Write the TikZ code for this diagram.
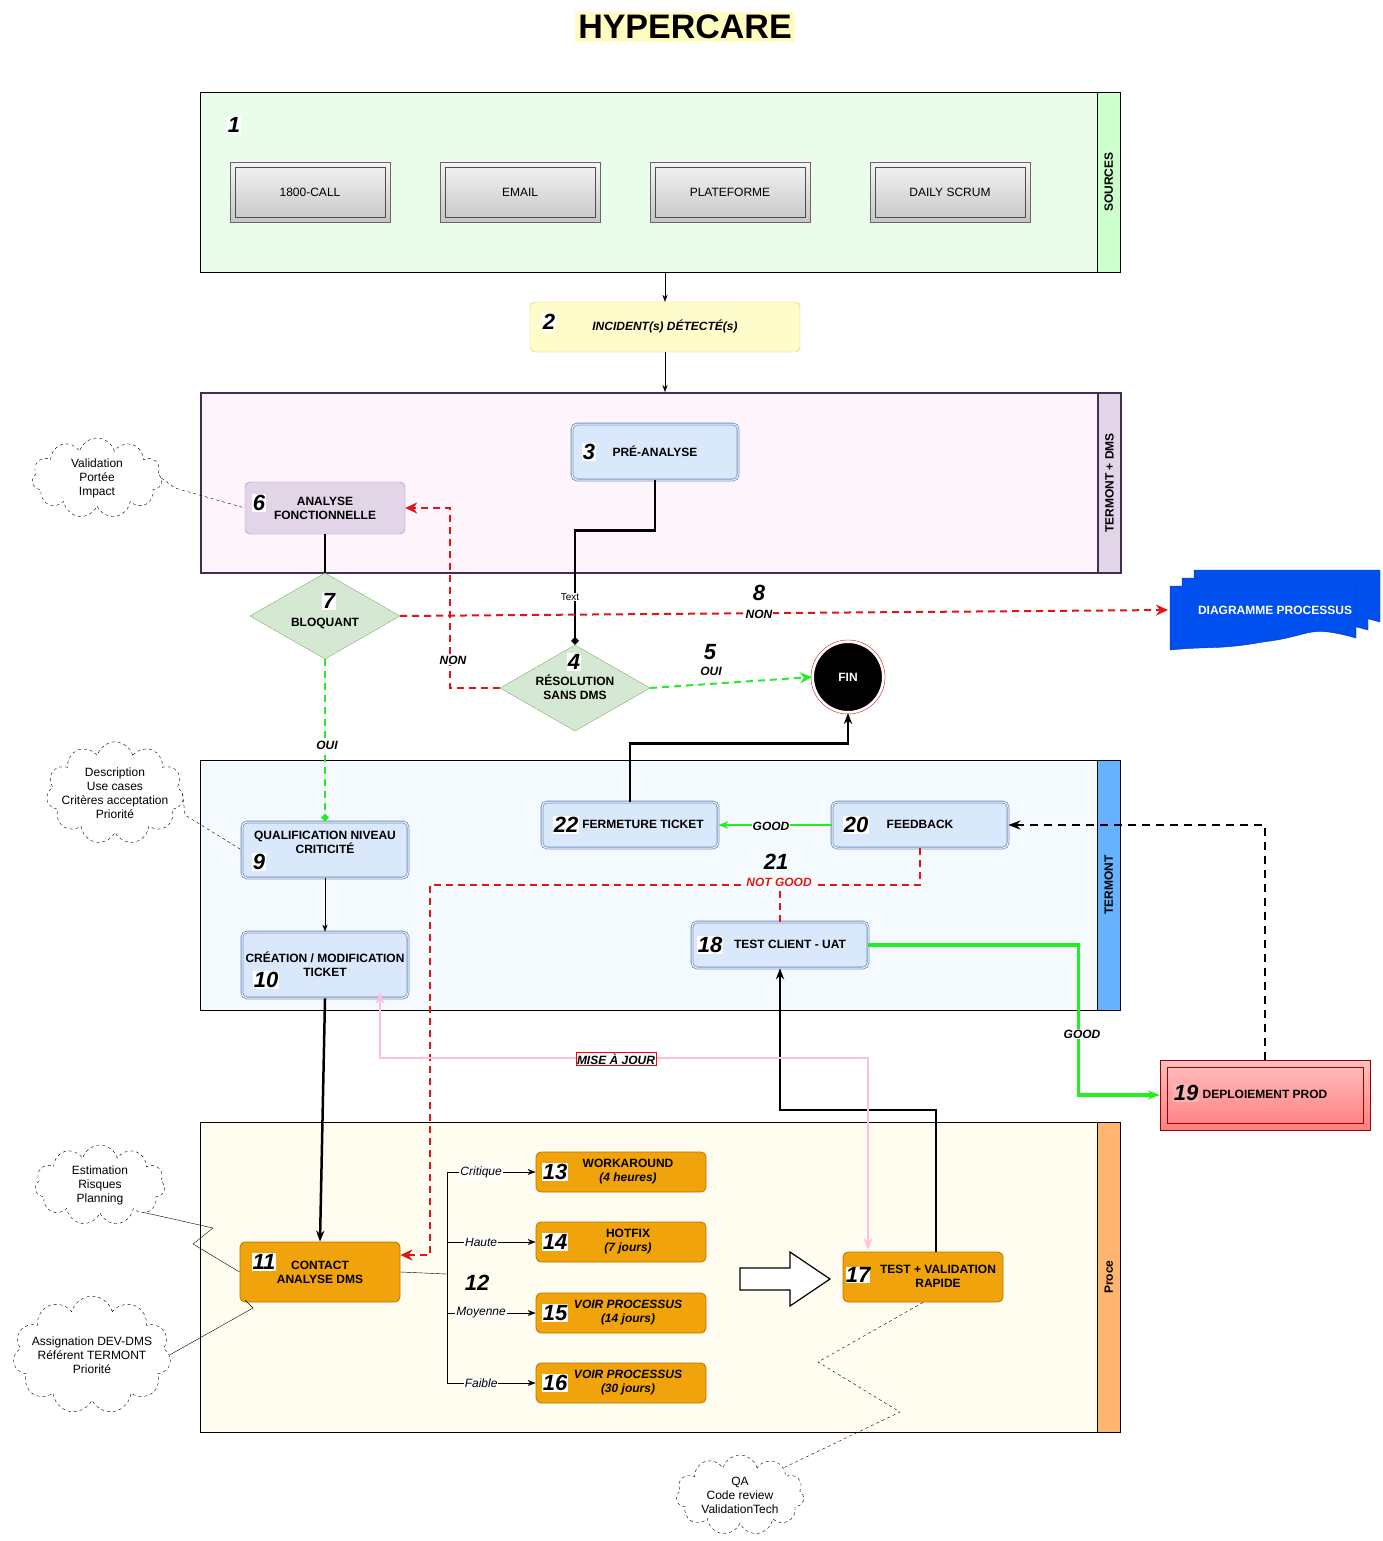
\documentclass[tikz,border=0pt]{standalone}
\usepackage{fontspec}
\setmainfont{Liberation Sans}
\usetikzlibrary{arrows.meta,shapes.geometric,shapes.symbols,calc}
\definecolor{lgreen}{HTML}{EAFDEA}
\definecolor{sgreen}{HTML}{CCFFCC}
\definecolor{lpink}{HTML}{FDF4FC}
\definecolor{lpurple}{HTML}{E1D5E7}
\definecolor{dpurple}{HTML}{432D57}
\definecolor{lblue}{HTML}{DAE8FC}
\definecolor{dblue}{HTML}{6C8EBF}
\definecolor{lane3}{HTML}{F5FAFF}
\definecolor{sblue}{HTML}{66B2FF}
\definecolor{lyell}{HTML}{FFFDF0}
\definecolor{sorange}{HTML}{FFB570}
\definecolor{orng}{HTML}{F0A30A}
\definecolor{dorng}{HTML}{BD7000}
\definecolor{dgreen}{HTML}{D5E8D4}
\definecolor{ggreen}{HTML}{82B366}
\definecolor{redd}{HTML}{E01515}
\definecolor{okgreen}{HTML}{22EE22}
\definecolor{docblue}{HTML}{0050EF}
\definecolor{pinkln}{HTML}{FFC0DD}
\begin{document}
\begin{tikzpicture}
    [%%%%%%%%%%%%%%%%%%%%%%%%%%%%%%
        x=1pt, y=-1pt,
        font=\fontsize{12}{14}\selectfont,
        lane/.style={rectangle, draw=black, inner sep=0pt, anchor=north west},
        strip/.style={rectangle, draw=black, inner sep=0pt, anchor=north west, minimum width=23},
        striptxt/.style={rotate=90, font=\fontsize{12}{14}\selectfont\bfseries},
        btn/.style={rectangle, draw=gray!80!black, top color=gray!8, bottom color=gray!45, minimum width=160, minimum height=60},
        btnin/.style={rectangle, draw=gray!60!black, minimum width=150, minimum height=50},
        stepbox/.style={rounded corners=5pt, thick, double, double distance=1pt, draw=dblue, fill=lblue, font=\fontsize{12}{14}\selectfont\bfseries, align=center},
        task/.style={rounded corners=5pt, thick, draw=dorng, fill=orng, font=\fontsize{12}{14}\selectfont\bfseries, align=center},
        num/.style={fill=white, inner sep=1pt, font=\fontsize{22}{24}\selectfont\bfseries\itshape},
        dia/.style={diamond, draw=ggreen, fill=dgreen, aspect=1.75, minimum width=150, minimum height=86, inner sep=0pt},
        txt/.style={font=\fontsize{12}{14}\selectfont\bfseries, align=center},
        elbl/.style={fill=white, inner sep=1pt, font=\fontsize{12}{14}\selectfont\bfseries\itshape},
        note/.style={cloud, cloud puffs=11, aspect=1.6, draw=black, dashed, fill=white, align=center, inner sep=-9pt, minimum width=130, minimum height=80},
        reddash/.style={draw=redd, line width=2pt, dash pattern=on 7pt off 5pt},
        greendash/.style={draw=okgreen, line width=2pt, dash pattern=on 7pt off 5pt},
        thickblk/.style={draw=black, line width=2.5pt},
    ]%%%%%%%%%%%%%%%%%%%%%%%%%%%%%%
    \useasboundingbox (0,0) rectangle (1382,1541);

    \node[fill=yellow!25, inner sep=3pt, font=\fontsize{34}{38}\selectfont\bfseries] (title) at (685,27) {HYPERCARE};

    % lanes
    \node[lane, fill=lgreen, minimum width=897, minimum height=180] (lsrc) at (200,92) {};
    \node[strip, fill=sgreen, minimum height=180] (ssrc) at (1097,92) {};
    \node[striptxt] at (ssrc) {SOURCES};

    \node[lane, fill=lpink, draw=dpurple, line width=2pt, minimum width=897, minimum height=180] (ltd) at (200,392) {};
    \node[strip, fill=lpurple, draw=dpurple, line width=2pt, minimum height=180] (std) at (1097,392) {};
    \node[striptxt] at (std) {TERMONT + DMS};

    \node[lane, fill=lane3, minimum width=897, minimum height=250] (lterm) at (200,760) {};
    \node[strip, fill=sblue, minimum height=250] (sterm) at (1097,760) {};
    \node[striptxt] at (sterm) {TERMONT};

    \node[lane, fill=lyell, minimum width=897, minimum height=310] (lproc) at (200,1122) {};
    \node[strip, fill=sorange, minimum height=310] (sproc) at (1097,1122) {};
    \node[striptxt] at (sproc) {Proce};

    % sources
    \node[num] (n1) at (234,125) {1};
    \foreach \x/\t/\n in {310/1800-CALL/call, 520/EMAIL/mail, 730/PLATEFORME/plat, 950/DAILY SCRUM/scrum}{
        \node[btn] (\n) at (\x,192) {};
        \node[btnin] at (\n) {\t};
    }

    % incident
    \node[rounded corners=5pt, draw=yellow!60!brown, fill=yellow!20, minimum width=270, minimum height=50] (inc) at (665,327) {};
    \node[num] at (549,322) {2};
    \node[txt, font=\fontsize{12}{14}\selectfont\bfseries\itshape] at (665,326) {INCIDENT(s) DÉTECTÉ(s)};

    % termont + dms
    \node[stepbox, minimum width=166, minimum height=56] (pre) at (655,452) {};
    \node[num] at (589,452) {3};
    \node[txt] at (655,451) {PRÉ-ANALYSE};

    \node[rounded corners=5pt, draw=purple!50!blue!50, fill=lpurple, minimum width=160, minimum height=52] (ana) at (325,508) {};
    \node[num] at (259,503) {6};
    \node[txt] at (325,508) {ANALYSE\\FONCTIONNELLE};

    \node[note] (c1) at (97,478) {Validation\\Portée\\Impact};

    \node[dia] (blq) at (325,616) {};
    \node[num] at (329,601) {7};
    \node[txt] at (325,623) {BLOQUANT};

    \node[dia] (res) at (575,688) {};
    \node[num] at (574,662) {4};
    \node[txt] at (575,687) {RÉSOLUTION\\SANS DMS};

    \node[circle, fill=black, draw=white, line width=2pt, minimum size=70] (fin) at (848,677) {};
    \draw[redd] (fin) circle (37);
    \node[txt, text=white] at (fin) {FIN};

    % diagramme processus
    \foreach \a/\b in {1194/570, 1182/578, 1170/586}{
        \draw[docblue!70!black, fill=docblue] (\a,\b) -- ++(186,0) -- ++(0,52) .. controls ++(-50,-14) and ++(50,-6) .. ++(-93,4) .. controls ++(-45,8) and ++(40,-4) .. ++(-93,8) -- cycle;
    }
    \node[txt, text=white] (diag) at (1275,610) {DIAGRAMME PROCESSUS};

    % termont
    \node[note, minimum width=135] (c2) at (115,793) {Description\\Use cases\\Critères acceptation\\Priorité};
    \node[stepbox, minimum width=166, minimum height=56] (qual) at (325,850) {};
    \node[txt] at (325,842) {QUALIFICATION NIVEAU\\CRITICITÉ};
    \node[num] at (259,862) {9};
    \node[stepbox, minimum width=166, minimum height=66] (crea) at (325,965) {};
    \node[txt] at (325,964) {CRÉATION / MODIFICATION\\TICKET};
    \node[num] at (266,980) {10};
    \node[stepbox, minimum width=176, minimum height=46] (ferm) at (630,825) {};
    \node[num] at (566,825) {22};
    \node[txt] at (643,824) {FERMETURE TICKET};
    \node[stepbox, minimum width=176, minimum height=46] (feed) at (920,825) {};
    \node[num] at (856,825) {20};
    \node[txt] at (920,824) {FEEDBACK};
    \node[stepbox, minimum width=176, minimum height=46] (uat) at (780,945) {};
    \node[num] at (710,945) {18};
    \node[txt] at (790,944) {TEST CLIENT - UAT};

    \node[draw=red!60!black, top color=red!25, bottom color=red!50, minimum width=210, minimum height=70] (dep) at (1265,1095) {};
    \node[draw=red!60!black, minimum width=196, minimum height=56] at (dep) {};
    \node[num, fill=red!30] at (1186,1093) {19};
    \node[txt] at (1265,1094) {DEPLOIEMENT PROD};

    % proce
    \node[note] (c3) at (100,1185) {Estimation\\Risques\\Planning};
    \node[note, minimum width=155] (c4) at (92,1355) {Assignation DEV-DMS\\Référent TERMONT\\Priorité};
    \node[task, minimum width=160, minimum height=60] (cont) at (320,1272) {};
    \node[num, fill=white] at (264,1262) {11};
    \node[txt] at (320,1272) {CONTACT\\ANALYSE DMS};
    \node[num, fill=none] at (477,1283) {12};
    \foreach \y/\n/\t/\k in {1172/13/{WORKAROUND\\\textit{(4 heures)}}/wa, 1242/14/{HOTFIX\\\textit{(7 jours)}}/hf, 1313/15/{\textit{VOIR PROCESSUS}\\\textit{(14 jours)}}/p14, 1383/16/{\textit{VOIR PROCESSUS}\\\textit{(30 jours)}}/p30}{
        \node[task, minimum width=170, minimum height=40] (\k) at (621,\y) {};
        \node[num] at (555,\y) {\n};
        \node[txt] at (628,\y) {\t};
    }
    \node[task, minimum width=160, minimum height=50] (tval) at (923,1277) {};
    \node[num, inner sep=0pt] at (858,1275) {17};
    \node[txt] at (938,1276) {TEST + VALIDATION\\RAPIDE};
    \node[note, minimum width=128] (c5) at (740,1495) {QA\\Code review\\ValidationTech};
    \draw[line width=1.2pt, fill=white] (740,1268) -- (790,1268) -- (790,1252) -- (830,1279) -- (790,1306) -- (790,1290) -- (740,1290) -- cycle;

    % connectors
    \draw[-{Stealth[length=7pt]}] (lsrc.south -| inc.north) -- (inc.north);
    \draw[-{Stealth[length=7pt]}] (inc.south) -- (inc.south |- ltd.north);
    \draw[thickblk, -{Diamond[length=8pt,width=8pt]}] (pre.south) -- ++(0,50) -| (res.north);
    \node[fill=white, inner sep=1pt, font=\fontsize{10}{12}\selectfont] at (570,597) {Text};
    \draw[thickblk] (ana.south) -- (blq.north);
    \draw[reddash, -{Stealth[length=12pt,width=11pt]}] (blq.east) -- (1168,610);
    \node[num, fill=none] at (759,593) {8};
    \node[elbl] at (759,614) {NON};
    \draw[reddash, -{Stealth[length=12pt,width=11pt]}] (res.west) -- ++(-50,0) |- (ana.east);
    \node[elbl] at (453,660) {NON};
    \draw[greendash, -{Stealth[length=12pt,width=11pt]}] (res.east) -- (fin.west);
    \node[num, fill=none] at (710,652) {5};
    \node[elbl] at (711,671) {OUI};
    \draw[greendash, -{Diamond[length=8pt,width=8pt]}] (blq.south) -- (qual.north);
    \node[elbl] at (327,745) {OUI};
    \draw[-{Stealth[length=7pt]}] (qual.south) -- (crea.north);
    \draw[draw=okgreen, line width=2.5pt, -{Stealth[length=10pt]}] (feed.west) -- (ferm.east);
    \node[elbl] at (771,826) {GOOD};
    \draw[thickblk, -{Stealth[length=11pt]}] (ferm.north) -- ++(0,-58) -| (fin.south);
    \draw[reddash, -{Stealth[length=12pt,width=11pt]}] (feed.south) -- ++(0,37) -| (430,1255) -- (cont.east |- 0,1255);
    \draw[reddash] (uat.north) -- ++(0,-33);
    \node[num, fill=none] at (776,862) {21};
    \node[elbl, text=redd] at (779,882) {NOT GOOD};
    \draw[draw=okgreen, line width=3.5pt, -{Stealth[length=12pt]}] (uat.east) -- ++(210,0) |- (dep.west);
    \node[elbl] at (1082,1034) {GOOD};
    \draw[line width=2.5pt, dash pattern=on 8pt off 6pt, -{Stealth[length=12pt]}] (dep.north) |- (feed.east);
    \draw[thickblk, -{Stealth[length=11pt]}] (crea.south) -- (cont.north);
    \draw[thickblk, -{Stealth[length=11pt]}] (tval.north -| 936,0) -- (936,1110) -| (uat.south);
    \draw[draw=pinkln, line width=2.5pt, {Stealth[length=12pt]}-{Stealth[length=12pt]}] (380,992) |- (868,1058) -- (868,1250);
    \node[draw=red, fill=white, inner sep=1pt, font=\fontsize{12}{14}\selectfont\bfseries\itshape] at (616,1059) {MISE À JOUR};
    \draw (cont.east) -- (447,1274);
    \draw (447,1172) -- (447,1383);
    \foreach \k/\t in {wa/Critique, hf/Haute, p14/Moyenne, p30/Faible}{
        \draw[-{Stealth[length=8pt]}] (447,0 |- \k.west) -- node[elbl, font=\fontsize{12}{14}\selectfont\itshape, near start, xshift=12pt]{\t} (\k.west);
    }

    % notes
    \draw[dashed] (c1.east) -- (175,488) -- (ana.west);
    \draw[dashed] (c2.east) -- (185,815) -- (qual.west);
    \draw (c3.south east) -- (213,1228) -- (193,1244) -- (cont.west);
    \draw (c4.east) -- (253,1308) -- (245,1300);
    \draw[dashed] (tval.south) -- (818,1362) -- (900,1412) -- (c5.north east);
\end{tikzpicture}
\end{document}
